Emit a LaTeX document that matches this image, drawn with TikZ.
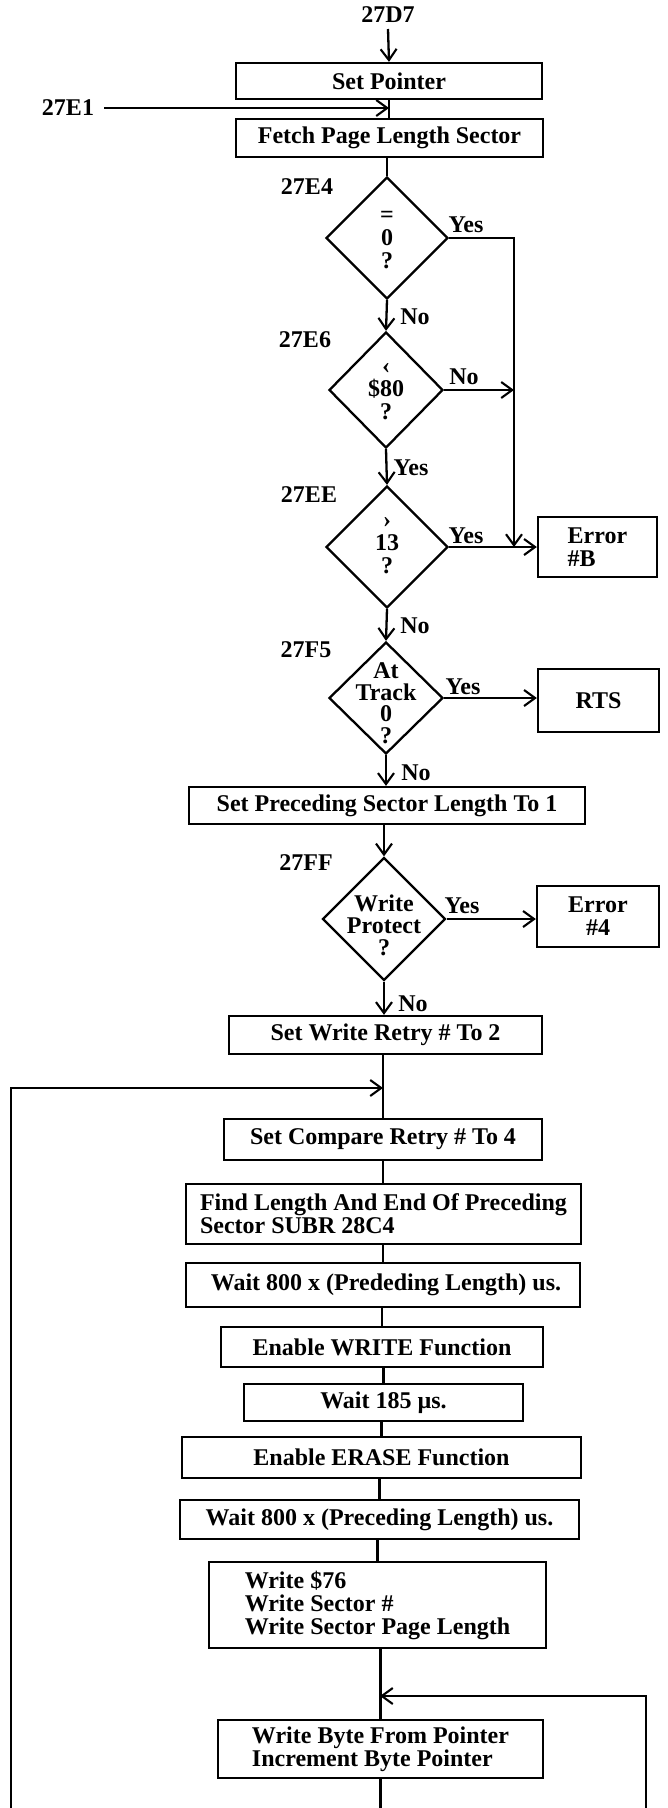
\documentclass[tikz,border=0pt]{standalone}
\usepackage{fontspec}
\setmainfont{Liberation Serif}
\usetikzlibrary{arrows.meta,shapes.geometric}
\begin{document}
\begin{tikzpicture}[x=1pt,y=-1pt,line width=2.3pt,
  every node/.style={font=\fontsize{24}{23}\selectfont\bfseries,inner sep=0pt},
  box/.style={draw,rectangle,align=center,line width=2.3pt},
  lbox/.style={draw,rectangle,align=left,line width=2.3pt},
  dia/.style={draw,diamond,inner sep=0pt,line width=2.3pt},
  dtext/.style={align=center},
  arr/.style={-{Straight Barb[length=11pt,width=16pt,line width=2.1pt]}}]
\useasboundingbox (0,0) rectangle (667,1808);

% ---- labels
\node (l27D7) at (388,15) {27D7};
\node (l27E1) at (68,108) {27E1};
\node (l27E4) at (307,187) {27E4};
\node (l27E6) at (305,340) {27E6};
\node (l27EE) at (309,495) {27EE};
\node (l27F5) at (306,650) {27F5};
\node (l27FF) at (306,863) {27FF};

% ---- boxes
\node[box,minimum width=306pt,minimum height=36pt] (setptr) at (389,81) {Set Pointer};
\node[box,minimum width=307pt,minimum height=38pt] (fetch) at (389.5,138) {Fetch Page Length Sector};
\node[lbox,minimum width=119pt,minimum height=60pt] (errB) at (597.5,547) {Error\\\#B};
\node[box,minimum width=121pt,minimum height=63pt] (rts) at (598.5,700.5) {RTS};
\node[box,minimum width=396pt,minimum height=37pt] (setprec) at (387,805.5) {Set Preceding Sector Length To 1};
\node[box,minimum width=122pt,minimum height=61pt] (err4) at (598,916.5) {Error\\\#4};
\node[box,minimum width=313pt,minimum height=38pt] (setwrite) at (385.5,1035) {Set Write Retry \# To 2};
\node[box,minimum width=318pt,minimum height=41pt] (setcmp) at (383,1139.5) {Set Compare Retry \# To 4};
\node[lbox,minimum width=395pt,minimum height=60pt] (find) at (383.5,1214) {Find Length And End Of Preceding\\Sector SUBR 28C4};
\node[box,minimum width=394pt,minimum height=44pt] (waitA) at (383,1285) {\hspace*{6pt}Wait 800 x (Prededing Length) us.};
\node[box,minimum width=322pt,minimum height=40pt] (enwrite) at (382,1347) {Enable WRITE Function};
\node[box,minimum width=279pt,minimum height=37pt] (wait185) at (383.5,1402.5) {Wait 185 µs.};
\node[box,minimum width=399pt,minimum height=41pt] (enerase) at (381.5,1457.5) {Enable ERASE Function};
\node[box,minimum width=399pt,minimum height=39pt] (waitB) at (379.5,1519.5) {Wait 800 x (Preceding Length) us.};
\node[lbox,minimum width=337pt,minimum height=86pt] (write76) at (377.5,1605) {Write \$76\\Write Sector \#\\Write Sector Page Length};
\node[lbox,minimum width=325pt,minimum height=58pt] (wbyte) at (380.5,1749) {Write Byte From Pointer\\Increment Byte Pointer};

% ---- decisions
\node[dia,minimum width=122pt,minimum height=122pt] (d1) at (387,238) {};
\node[dtext] (t1) at (387,240) {=\\0\\?};
\node[dia,minimum width=114pt,minimum height=116pt] (d2) at (386,390) {};
\node[dtext] (t2) at (386,392) {‹\\\$80\\?};
\node[dia,minimum width=122pt,minimum height=122pt] (d3) at (387,547) {};
\node[dtext] (t3) at (387,546) {›\\13\\?};
\node[dia,minimum width=114pt,minimum height=112pt] (d4) at (386,698) {};
\node[dtext,font=\fontsize{24}{21.5}\selectfont\bfseries] (t4) at (386,703) {At\\Track\\0\\?};
\node[dia,minimum width=123pt,minimum height=123pt] (d5) at (384,919) {};
\node[dtext,font=\fontsize{24}{22}\selectfont\bfseries] (t5) at (384,925) {Write\\Protect\\?};

% ---- branch labels
\node (y1) at (466,225) {Yes};
\node (n1) at (415,317) {No};
\node (n2) at (464,377) {No};
\node (y2) at (411,468) {Yes};
\node (y3) at (466,536) {Yes};
\node (n3) at (415,626) {No};
\node (y4) at (463,687) {Yes};
\node (n4) at (416,773) {No};
\node (y5) at (462,906) {Yes};
\node (n5) at (413,1004) {No};

% ---- coordinates
\coordinate (a0) at (388,29);
\coordinate (a1) at (104,108);
\coordinate (c1) at (514,238);
\coordinate (c2) at (514,547);
\coordinate (j1) at (383,1088);
\coordinate (lb) at (11,1808);
\coordinate (j2) at (380,1696);
\coordinate (rb) at (646,1808);
\coordinate (mb) at (377,1808);

% ---- connectors
\draw[arr] (a0) -- (setptr.north);
\draw (setptr.south) -- (setptr.south |- fetch.north);
\draw[arr] (a1) -- (setptr.south |- a1);
\draw (d1.north |- fetch.south) -- (d1.north);
\draw[arr] (d1.south) -- (d2.north);
\draw[arr] (d1.east) -- (c1) -- (c2);
\draw[arr] (d2.east) -- (c1 |- d2.east);
\draw[arr] (d2.south) -- (d3.north);
\draw[arr] (d3.east) -- (errB.west);
\draw[arr] (d3.south) -- (d4.north);
\draw[arr] (d4.east) -- (d4.east -| rts.west);
\draw[arr] (d4.south) -- (d4.south |- setprec.north);
\draw[arr] (d5.north |- setprec.south) -- (d5.north);
\draw[arr] (d5.east) -- (d5.east -| err4.west);
\draw[arr] (d5.south) -- (d5.south |- setwrite.north);
\draw (setwrite.south -| setcmp.north) -- (setcmp.north);
\draw[arr] (lb) |- (j1);
\draw (setcmp.south) -- (setcmp.south |- find.north);
\draw (find.south -| waitA.north) -- (waitA.north);
\draw (waitA.south -| enwrite.north) -- (enwrite.north);
\draw (enwrite.south -| wait185.north) -- (wait185.north);
\draw (wait185.south -| enerase.north) -- (enerase.north);
\draw (enerase.south -| waitB.north) -- (waitB.north);
\draw (waitB.south -| write76.north) -- (write76.north);
\draw (write76.south -| wbyte.north) -- (wbyte.north);
\draw[arr] (rb) |- (j2);
\draw (wbyte.south) -- (wbyte.south |- mb);
\end{tikzpicture}
\end{document}
